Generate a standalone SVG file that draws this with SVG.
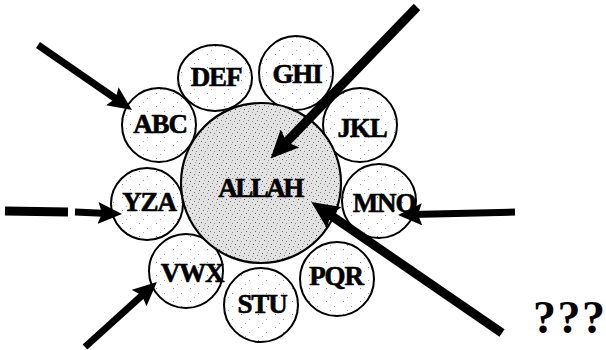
<svg xmlns="http://www.w3.org/2000/svg" width="606" height="350" viewBox="0 0 606 350">
<style>
.node{stroke:#000;stroke-width:2;fill:url(#speck)}
.core{stroke:#000;stroke-width:2.2;fill:url(#stipple)}
.lbl{font-family:"Liberation Serif","Times New Roman",serif;font-weight:bold;font-size:27px;letter-spacing:-1.2px;text-anchor:middle;fill:#000;stroke:#000;stroke-width:0.6}
.arr{stroke:#000;stroke-width:7;fill:none;marker-end:url(#head)}
.big{stroke:#000;stroke-width:9;fill:none;marker-end:url(#headBig)}
.plain{stroke:#000;stroke-width:9;fill:none}
</style>
<defs>
<pattern id="speck" width="17" height="13" patternUnits="userSpaceOnUse">
<rect width="17" height="13" fill="#fff"/>
<rect x="3" y="2" width="1" height="1" fill="#888"/>
<rect x="11" y="7" width="1" height="1" fill="#999"/>
<rect x="7" y="11" width="1" height="1" fill="#aaa"/>
</pattern>
<pattern id="stipple" width="9" height="9" patternUnits="userSpaceOnUse">
<rect width="9" height="9" fill="#e2e2e2"/>
<rect x="1" y="1" width="1" height="1" fill="#555"/>
<rect x="5" y="3" width="1" height="1" fill="#777"/>
<rect x="3" y="6" width="1" height="1" fill="#666"/>
<rect x="7" y="7" width="1" height="1" fill="#888"/>
<rect x="0" y="4" width="1" height="1" fill="#999"/>
<rect x="6" y="0" width="1" height="1" fill="#aaa"/>
</pattern>
<marker id="head" viewBox="0 0 24 22" refX="10" refY="11" markerWidth="24" markerHeight="22" markerUnits="userSpaceOnUse" orient="auto">
<path d="M0,0 L24,11 L0,22 L4,11 z" fill="#000"/>
</marker>
<marker id="headBig" viewBox="0 0 28 26" refX="12" refY="13" markerWidth="28" markerHeight="26" markerUnits="userSpaceOnUse" orient="auto">
<path d="M0,0 L28,13 L0,26 L5,13 z" fill="#000"/>
</marker>
</defs>
<g id="n-abc"><circle class="node" cx="159" cy="125" r="37"/><text class="lbl" x="160" y="133">ABC</text></g>
<g id="n-def"><ellipse class="node" cx="215" cy="78" rx="37" ry="33"/><text class="lbl" x="216" y="86">DEF</text></g>
<g id="n-ghi"><circle class="node" cx="296" cy="73" r="37"/><text class="lbl" x="297" y="83">GHI</text></g>
<g id="n-jkl"><circle class="node" cx="360" cy="125" r="37"/><text class="lbl" x="362" y="137">JKL</text></g>
<g id="n-mno"><circle class="node" cx="379" cy="201" r="37"/><text class="lbl" x="384" y="212">MNO</text></g>
<g id="n-pqr"><circle class="node" cx="337" cy="279" r="37"/><text class="lbl" x="336" y="285">PQR</text></g>
<g id="n-stu"><circle class="node" cx="261" cy="305" r="37"/><text class="lbl" x="262" y="313">STU</text></g>
<g id="n-vwx"><circle class="node" cx="186" cy="271" r="37"/><text class="lbl" x="192" y="282">VWX</text></g>
<g id="n-yza"><circle class="node" cx="147" cy="204" r="36"/><text class="lbl" x="149" y="211">YZA</text></g>
<g id="n-allah"><circle class="core" cx="261" cy="183" r="80"/><text class="lbl" x="260" y="197" style="letter-spacing:-2.5px">ALLAH</text></g>
<g id="connectors">
<line class="arr" x1="38" y1="45" x2="120.5" y2="102"/>
<line class="big" x1="417" y1="7" x2="281.7" y2="147"/>
<line class="big" x1="502" y1="333" x2="324.5" y2="211"/>
<line class="arr" x1="515" y1="212" x2="412" y2="214.6"/>
<line class="plain" x1="5" y1="211" x2="68" y2="212"/>
<line class="arr" x1="75" y1="212" x2="108" y2="213.4"/>
<line class="arr" x1="85" y1="347" x2="146.5" y2="291.4"/>
</g>
<text x="533" y="333" style="font-family:'Liberation Serif','Times New Roman',serif;font-weight:bold;font-size:46px;letter-spacing:1.5px;fill:#000">???</text>
</svg>
